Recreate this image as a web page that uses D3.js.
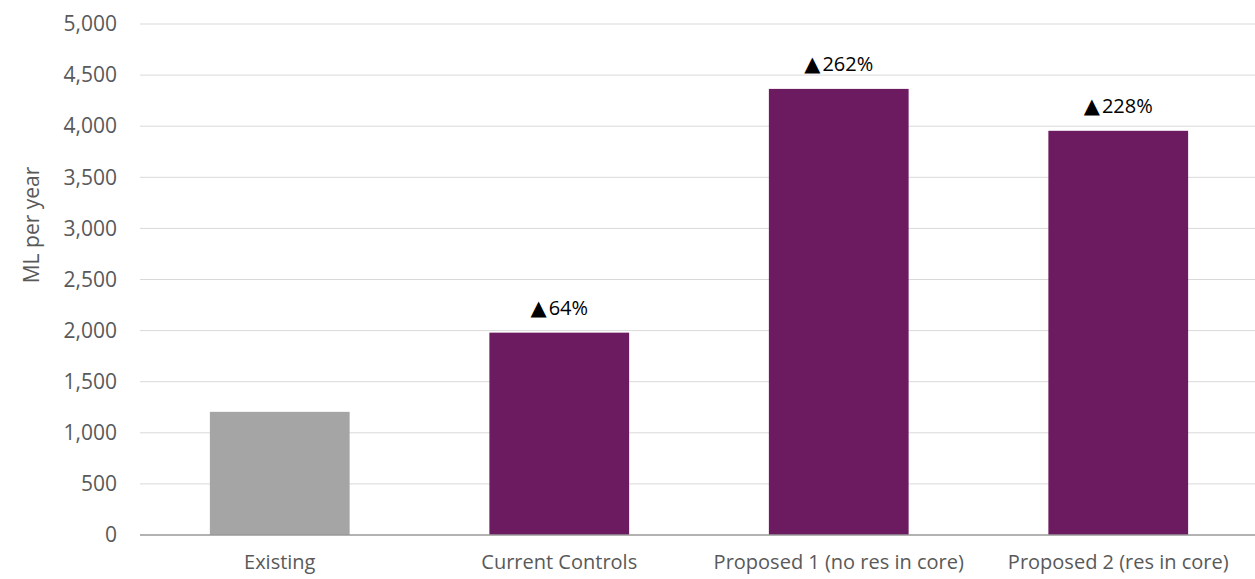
<!DOCTYPE html>
<html>
<head>
<meta charset="utf-8">
<script src="https://cdn.jsdelivr.net/npm/d3@7"></script>
<style>
  html, body { margin: 0; padding: 0; background: #fff; }
  svg { display: block; font-family: "Open Sans", sans-serif; }
</style>
</head>
<body>
<svg id="chart" width="1255" height="579"></svg>
<script>
// Annual volume by scenario (ML per year)
const categories = ["Existing", "Current Controls", "Proposed 1 (no res in core)", "Proposed 2 (res in core)"];
const values = [1205, 1980, 4365, 3955];
const changeLabels = ["", "64%", "262%", "228%"];
const yTicks = [0, 500, 1000, 1500, 2000, 2500, 3000, 3500, 4000, 4500, 5000];
const barColors = ["#a5a5a5", "#6d1b61", "#6d1b61", "#6d1b61"];

const svg = d3.select("#chart");
const margin = { left: 140, right: -3, top: 24, bottom: 44 };
const width = 1255, height = 579;

const x = d3.scaleBand()
  .domain(categories)
  .range([margin.left, width - margin.right])
  .paddingInner(0.5)
  .paddingOuter(0.25);

const y = d3.scaleLinear()
  .domain([0, 5000])
  .range([height - margin.bottom, margin.top]);

// Horizontal gridlines
svg.append("g")
  .selectAll("line")
  .data(yTicks.filter(d => d > 0))
  .join("line")
  .attr("x1", margin.left)
  .attr("x2", width)
  .attr("y1", d => y(d))
  .attr("y2", d => y(d))
  .attr("stroke", "#d9d9d9")
  .attr("stroke-width", 1);

// Y axis labels
const yAxis = d3.axisLeft(y)
  .tickValues(yTicks)
  .tickFormat(d3.format(","))
  .tickSize(0)
  .tickPadding(23);

svg.append("g")
  .attr("transform", `translate(${margin.left},0)`)
  .call(yAxis)
  .call(g => g.select(".domain").remove())
  .call(g => g.selectAll("text")
    .attr("fill", "#595959")
    .style("font-size", "21px")
    .style("font-family", "'Open Sans', sans-serif"));

// Bars
svg.append("g")
  .selectAll("rect")
  .data(values)
  .join("rect")
  .attr("x", (d, i) => x(categories[i]))
  .attr("width", x.bandwidth())
  .attr("y", d => y(d))
  .attr("height", d => y(0) - y(d))
  .attr("fill", (d, i) => barColors[i]);

// Baseline
svg.append("line")
  .attr("x1", margin.left)
  .attr("x2", width)
  .attr("y1", y(0))
  .attr("y2", y(0))
  .attr("stroke", "#999999")
  .attr("stroke-width", 1.5);

// X axis labels
const xAxis = d3.axisBottom(x).tickSize(0).tickPadding(20);
svg.append("g")
  .attr("transform", `translate(0,${y(0)})`)
  .call(xAxis)
  .call(g => g.select(".domain").remove())
  .call(g => g.selectAll("text")
    .attr("fill", "#595959")
    .style("font-size", "20px")
    .style("font-family", "'Open Sans', sans-serif"));

// Change labels above bars: up-triangle marker then percentage
const labels = svg.append("g")
  .selectAll("text")
  .data(values.map((v, i) => ({ v, i })).filter(d => changeLabels[d.i] !== ""))
  .join("text")
  .attr("x", d => x(categories[d.i]) + x.bandwidth() / 2)
  .attr("y", d => y(d.v) - 18)
  .attr("text-anchor", "middle")
  .attr("fill", "#000")
  .style("font-size", "20px");

labels.append("tspan")
  .style("font-family", "'DejaVu Sans', sans-serif")
  .style("font-size", "21px")
  .text("▲");
labels.append("tspan")
  .attr("dx", 2)
  .text(d => changeLabels[d.i]);

// Y axis title
svg.append("text")
  .attr("transform", "translate(39,225) rotate(-90)")
  .attr("text-anchor", "middle")
  .attr("fill", "#595959")
  .style("font-size", "21px")
  .text("ML per year");
</script>
</body>
</html>
